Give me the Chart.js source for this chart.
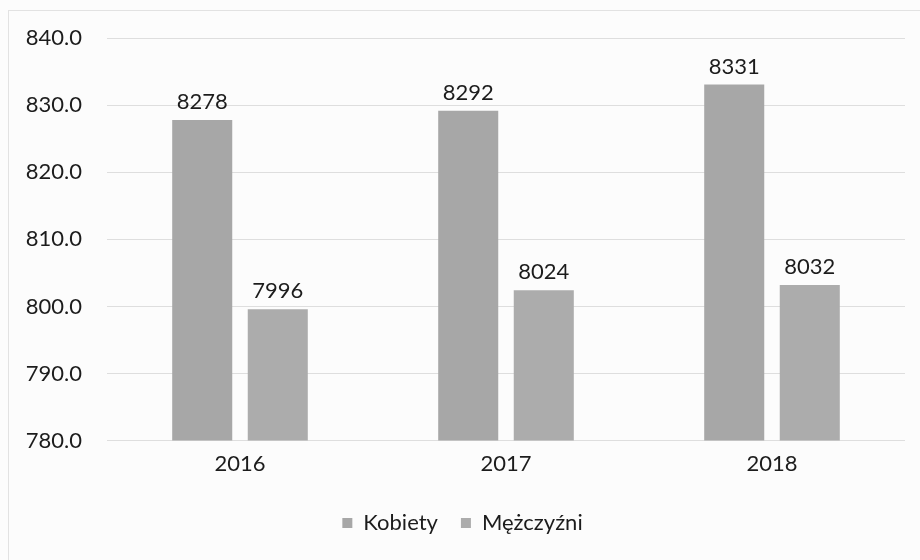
<!DOCTYPE html>
<html>
<head>
<meta charset="utf-8">
<script src="https://cdn.jsdelivr.net/npm/chart.js@4"></script>
<style>
html,body{margin:0;padding:0;background:#fcfcfc;}
#wrap{width:920px;height:560px;}
</style>
</head>
<body>
<div id="wrap"><canvas id="c" width="920" height="560"></canvas></div>
<script>
const categories = ['2016', '2017', '2018'];
const kobiety = [827.8, 829.2, 833.1];
const mezczyzni = [799.6, 802.4, 803.2];
const seriesNames = ['Kobiety', 'Mężczyźni'];
const yMin = 780, yMax = 840, yStep = 10;

const FONT = 'Lato, "Open Sans", sans-serif';
const TEXT = '#1c1c1c';

const bgPlugin = {
  id: 'bg',
  beforeDraw(chart) {
    const ctx = chart.ctx;
    ctx.save();
    ctx.fillStyle = '#fcfcfc';
    ctx.fillRect(0, 0, chart.width, chart.height);
    ctx.strokeStyle = '#e2e2e2';
    ctx.lineWidth = 1;
    ctx.strokeRect(8.5, 10.5, 920, 560);
    ctx.restore();
  }
};

const labelPlugin = {
  id: 'vlabels',
  afterDatasetsDraw(chart) {
    const ctx = chart.ctx;
    ctx.save();
    ctx.font = '22px ' + FONT;
    ctx.fillStyle = TEXT;
    ctx.textAlign = 'center';
    ctx.textBaseline = 'bottom';
    chart.data.datasets.forEach((ds, di) => {
      chart.getDatasetMeta(di).data.forEach((bar, i) => {
        ctx.fillText(String(Math.round(ds.data[i] * 10)), bar.x, bar.y - 7);
      });
    });
    ctx.restore();
  }
};

new Chart(document.getElementById('c'), {
  type: 'bar',
  data: {
    labels: categories,
    datasets: [
      { label: seriesNames[0], data: kobiety, backgroundColor: '#a7a7a7',
        categoryPercentage: 0.568, barPercentage: 0.795 },
      { label: seriesNames[1], data: mezczyzni, backgroundColor: '#acacac',
        categoryPercentage: 0.568, barPercentage: 0.795 }
    ]
  },
  options: {
    responsive: false,
    animation: false,
    layout: { padding: { left: 20, right: 15, top: 28, bottom: 16 } },
    plugins: {
      legend: {
        position: 'bottom',
        labels: {
          font: { family: FONT, size: 22 },
          color: TEXT,
          boxWidth: 10,
          boxHeight: 10,
          padding: 23
        }
      },
      tooltip: { enabled: false }
    },
    scales: {
      x: {
        afterFit(scale) { scale.height += 2; },
        grid: { display: false, drawTicks: false },
        border: { display: false },
        ticks: { font: { family: FONT, size: 22 }, color: TEXT, padding: 10 }
      },
      y: {
        min: yMin, max: yMax,
        afterFit(scale) { scale.width = 87; },
        grid: { color: '#dedede', drawTicks: false },
        border: { display: false },
        ticks: {
          stepSize: yStep,
          padding: 25,
          font: { family: FONT, size: 22 },
          color: TEXT,
          callback: v => Number(v).toFixed(1)
        }
      }
    }
  },
  plugins: [bgPlugin, labelPlugin]
});
</script>
</body>
</html>
